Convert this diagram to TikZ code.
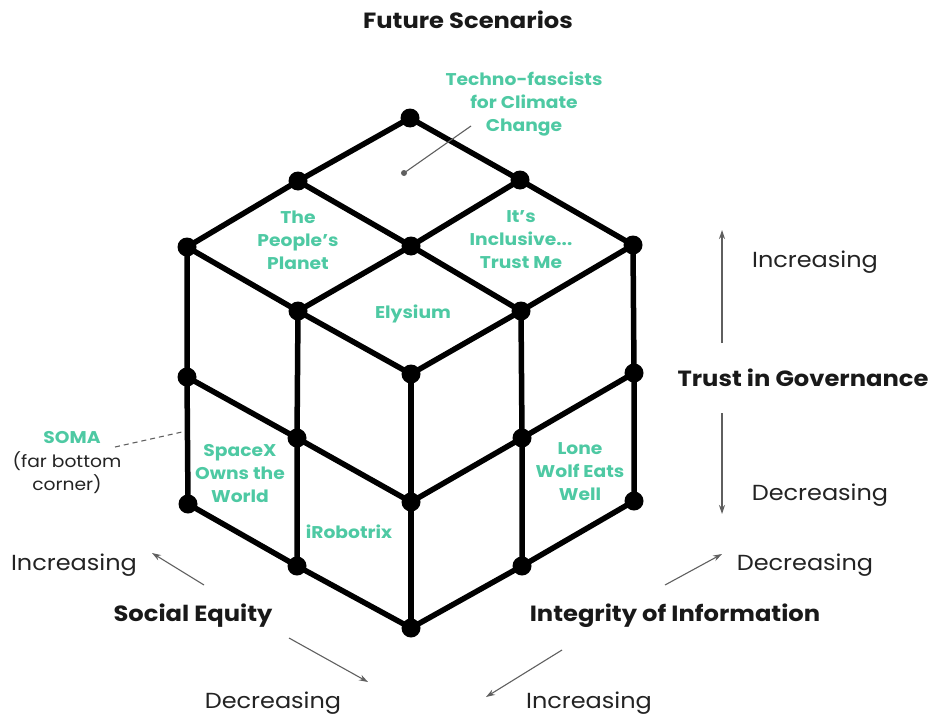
\documentclass[tikz,border=0pt]{standalone}
\usepackage{fontspec}
\setmainfont{Poppins}[FakeStretch=1.1]
\usetikzlibrary{arrows.meta}
\definecolor{tealc}{RGB}{78,201,163}
\definecolor{txtgray}{RGB}{35,35,35}
\definecolor{arrgray}{RGB}{95,95,95}
\begin{document}
\begin{tikzpicture}[x=1pt,y=-1pt,
  edge/.style={line width=5.5pt, line cap=round, line join=round},
  vdot/.style={circle, fill=black, inner sep=0pt, minimum size=19pt},
  scen/.style={text=tealc, font=\bfseries\fontsize{17}{23}\selectfont, align=center, inner sep=0pt},
  dirlab/.style={text=txtgray, font=\fontsize{21.8}{24}\selectfont, inner sep=0pt},
  axislab/.style={text=black!90, font=\bfseries\fontsize{22}{24}\selectfont, inner sep=0pt},
  garrow/.style={draw=arrgray, line width=1.1pt, -{Stealth[length=9pt,width=6pt]}}
]
\useasboundingbox (0,0) rectangle (947,717);

% cube vertices
\node[vdot] (BT)  at (410,118) {};
\node[vdot] (TL1) at (298,181) {};
\node[vdot] (TR1) at (520,180) {};
\node[vdot] (LT)  at (187,247) {};
\node[vdot] (C)   at (411,246) {};
\node[vdot] (RT)  at (633,245) {};
\node[vdot] (TL2) at (298,311) {};
\node[vdot] (TR2) at (521,311) {};
\node[vdot] (FT)  at (411,374) {};
\node[vdot] (L1)  at (187,377) {};
\node[vdot] (LM)  at (297,438) {};
\node[vdot] (F1)  at (411,502) {};
\node[vdot] (LB)  at (188,504) {};
\node[vdot] (L2)  at (297,566) {};
\node[vdot] (F0)  at (411,628) {};
\node[vdot] (R1)  at (634,373) {};
\node[vdot] (RM)  at (522,438) {};
\node[vdot] (RB)  at (634,501) {};
\node[vdot] (R2)  at (522,566) {};

% top face
\draw[edge] (BT.center) -- (TL1.center) -- (LT.center);
\draw[edge] (TR1.center) -- (C.center) -- (TL2.center);
\draw[edge] (RT.center) -- (TR2.center) -- (FT.center);
\draw[edge] (BT.center) -- (TR1.center) -- (RT.center);
\draw[edge] (TL1.center) -- (C.center) -- (TR2.center);
\draw[edge] (LT.center) -- (TL2.center) -- (FT.center);
% left face
\draw[edge] (LT.center) -- (L1.center) -- (LB.center);
\draw[edge] (TL2.center) -- (LM.center) -- (L2.center);
\draw[edge] (FT.center) -- (F1.center) -- (F0.center);
\draw[edge] (L1.center) -- (LM.center) -- (F1.center);
\draw[edge] (LB.center) -- (L2.center) -- (F0.center);
% right face
\draw[edge] (TR2.center) -- (RM.center) -- (R2.center);
\draw[edge] (RT.center) -- (R1.center) -- (RB.center);
\draw[edge] (F1.center) -- (RM.center) -- (R1.center);
\draw[edge] (F0.center) -- (R2.center) -- (RB.center);

% title
\node[axislab] (title) at (468,20) {Future Scenarios};

% scenario labels
\node[scen] (techno) at (524,104) {Techno-fascists\\for Climate\\Change};
\node[circle, fill=arrgray, inner sep=0pt, minimum size=6pt] (tdot) at (404,173) {};
\coordinate (tend) at (471,126);
\draw[arrgray, line width=1.1pt] (tdot.center) -- (tend);

\node[scen] (people) at (298,240) {The\\People’s\\Planet};
\node[scen] (inclusive) at (521,240) {It’s\\Inclusive...\\Trust Me};
\node[scen] (elysium) at (413,314) {Elysium};
\node[scen] (spacex) at (240,474) {SpaceX\\Owns the\\World};
\node[scen] (irobot) at (349,532) {iRobotrix};
\node[scen] (lone) at (580,472) {Lone\\Wolf Eats\\Well};

% SOMA
\node[scen] (soma) at (72,438) {SOMA};
\node[text=txtgray, font=\fontsize{17}{23}\selectfont, align=center, inner sep=0pt] (somanote) at (67,473) {(far bottom\\corner)};
\coordinate (somaend) at (182,432);
\draw[arrgray, line width=1.1pt, dash pattern=on 5pt off 4pt] (115,447) -- (somaend);

% trust in governance
\node[axislab] (trust) at (803,378) {Trust in Governance};
\node[dirlab] (tinc) at (815,262) {Increasing};
\node[dirlab] (tdec) at (820,495) {Decreasing};
\coordinate (tu0) at (722,343);
\coordinate (tu1) at (722,230);
\coordinate (td0) at (722,413);
\coordinate (td1) at (722,514);
\draw[garrow] (tu0) -- (tu1);
\draw[garrow] (td0) -- (td1);

% integrity of information
\node[axislab] (integ) at (675,616) {Integrity of Information};
\node[dirlab] (idec) at (805,565) {Decreasing};
\node[dirlab] (iinc) at (589,703) {Increasing};
\coordinate (ia0) at (665,585);
\coordinate (ia1) at (722,554);
\coordinate (ib0) at (562,650);
\coordinate (ib1) at (486,697);
\draw[garrow] (ia0) -- (ia1);
\draw[garrow] (ib0) -- (ib1);

% social equity
\node[axislab] (social) at (193,616) {Social Equity};
\node[dirlab] (sinc) at (74,565) {Increasing};
\node[dirlab] (sdec) at (273,703) {Decreasing};
\coordinate (sa0) at (204,585);
\coordinate (sa1) at (152,553);
\coordinate (sb0) at (289,638);
\coordinate (sb1) at (368,682);
\draw[garrow] (sa0) -- (sa1);
\draw[garrow] (sb0) -- (sb1);
\end{tikzpicture}
\end{document}
